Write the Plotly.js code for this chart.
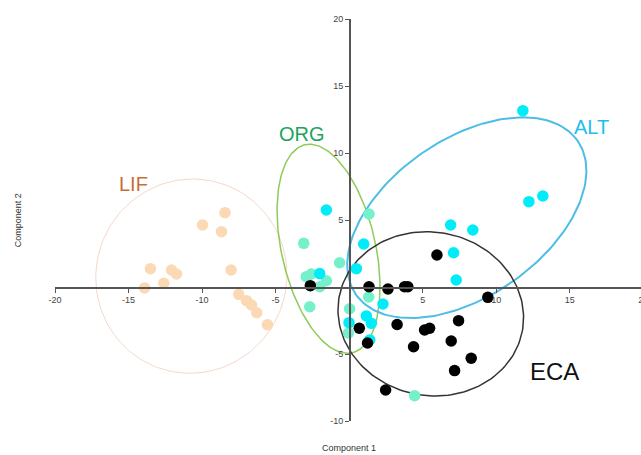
<!DOCTYPE html>
<html>
<head>
<meta charset="utf-8">
<script src="https://cdn.plot.ly/plotly-3.0.1.min.js"></script>
<style>
html,body{margin:0;padding:0;background:#fff;overflow:hidden;width:641px;height:455px;}
#chart{width:658px;height:455px;}
</style>
</head>
<body>
<div id="chart"></div>
<script>
// ---- data (Component 1 / Component 2 scores) ----
const lifX = [-13.51,-13.91,-12.6,-12.08,-11.74,-9.97,-8.44,-8.68,-8.03,-7.51,-6.98,-6.64,-6.28,-5.56];
const lifY = [1.37,-0.07,0.28,1.27,0.97,4.63,5.55,4.13,1.27,-0.55,-1.02,-1.34,-1.92,-2.81];

const orgX = [-3.09,-0.65,1.35,-2.91,-2.57,-1.55,-2.0,-2.68,0.03,-0.05,1.33,4.45];
const orgY = [3.26,1.81,5.45,0.77,0.97,0.47,0.02,-1.47,-1.62,-3.43,-0.75,-8.11];

const altX = [11.81,12.22,13.17,6.9,8.41,7.1,7.28,-1.55,0.99,0.49,-2.0,2.3,1.17,-0.01,1.51,1.4];
const altY = [13.16,6.37,6.79,4.63,4.25,2.56,0.52,5.75,3.21,1.37,1.0,-1.27,-2.16,-2.66,-2.71,-3.95];

const ecaX = [5.97,1.35,2.64,3.77,3.99,9.43,-2.64,0.69,1.25,3.26,5.13,5.47,4.38,7.44,6.94,8.3,7.17,2.48];
const ecaY = [2.39,0.02,-0.15,0.02,0.02,-0.77,0.1,-3.08,-4.18,-2.8,-3.21,-3.08,-4.46,-2.51,-4.03,-5.32,-6.24,-7.69];

// group ellipses: [centre x, centre y, half-width, half-height, x-offset of top point]
const lifEllipse = [-10.73, 0.81, 6.5, 7.25, 0.1];
const orgEllipse = [-1.4, 2.85, 3.5, 7.8, -1.28];
const altEllipse = [8.0, 5.17, 8.13, 7.49, 3.81];
const ecaEllipse = [5.55, -2.0, 6.31, 6.13, -0.3];

const groupNames = ['LIF','ORG','ALT','ECA'];
const labelX = [-14.66, -3.18, 16.45, 13.95];
const labelY = [7.70, 11.42, 11.95, -6.29];

const xTicks = [-20,-15,-10,-5,5,10,15,20];
const yTicks = [-10,-5,5,10,15,20];

// ---- styles ----
const pointColors = ['#FBD9B4','#74F0CB','#00ECF8','#000000'];
const ellipseColors = ['#F3D9C9','#8FCB5A','#4DBDE6','#333333'];
const ellipseWidths = [1, 1.5, 2, 1.5];
const labelColors = ['#C56F34','#1EA35C','#1FBCEF','#111111'];
const labelSizes = [20, 20, 20, 24];
const FONT = 'Helvetica, Arial, "Liberation Sans", sans-serif';

function ellipsePath(p){
  const [cx, cy, w, h, d] = p;
  const s = Math.sqrt(w*w - d*d);
  const xs = [], ys = [];
  for (let i = 0; i <= 180; i++){
    const t = 2*Math.PI*i/180;
    xs.push(cx + d*Math.sin(t) + s*Math.cos(t));
    ys.push(cy + h*Math.sin(t));
  }
  return {xs, ys};
}

const ellipses = [lifEllipse, orgEllipse, altEllipse, ecaEllipse];
const pts = [[lifX,lifY],[orgX,orgY],[altX,altY],[ecaX,ecaY]];

const traces = [];
ellipses.forEach((e,i)=>{
  const p = ellipsePath(e);
  traces.push({x:p.xs, y:p.ys, mode:'lines', type:'scatter', hoverinfo:'skip',
    line:{color:ellipseColors[i], width:ellipseWidths[i]}, showlegend:false});
});
pts.forEach((p,i)=>{
  traces.push({x:p[0], y:p[1], mode:'markers', type:'scatter', name:groupNames[i],
    marker:{color:pointColors[i], size:11.5, line:{width:0}}, showlegend:false});
});

const xRange = [-20, 21];
const yRange = [-10, 20];

const annotations = groupNames.map((g,i)=>({
  text:g, x:labelX[i], y:labelY[i], xref:'x', yref:'y', showarrow:false,
  xanchor:'center', yanchor:'middle',
  font:{family:FONT, size:labelSizes[i], color:labelColors[i]}
}));
annotations.push({text:'Component 1', x:0, y:-0.067, xref:'x', yref:'paper',
  xanchor:'center', yanchor:'middle',
  showarrow:false, font:{family:FONT, size:9, color:'#333'}});
annotations.push({text:'Component 2', x:-0.061, y:5.0, xref:'paper', yref:'y',
  xanchor:'center', yanchor:'middle',
  textangle:-90, showarrow:false, font:{family:FONT, size:9, color:'#333'}});

const axisCommon = {
  showgrid:false, zeroline:false, showline:true, linecolor:'#555', linewidth:1.5,
  ticks:'outside', ticklen:4, tickwidth:1, tickcolor:'#555',
  tickfont:{family:FONT, size:9, color:'#444'}, anchor:'free', automargin:false,
  fixedrange:true
};

const layout = {
  width:658, height:455,
  margin:{l:55, r:0, t:19, b:34},
  paper_bgcolor:'#fff', plot_bgcolor:'#fff',
  xaxis: Object.assign({}, axisCommon, {range:xRange, tickvals:xTicks, ticktext:xTicks.map(String),
    position:(0 - yRange[0])/(yRange[1]-yRange[0])}),
  yaxis: Object.assign({}, axisCommon, {range:yRange, tickvals:yTicks, ticktext:yTicks.map(String),
    position:(0 - xRange[0])/(xRange[1]-xRange[0])}),
  annotations: annotations,
  showlegend:false
};

Plotly.newPlot('chart', traces, layout, {displayModeBar:false, staticPlot:true});
</script>
</body>
</html>
